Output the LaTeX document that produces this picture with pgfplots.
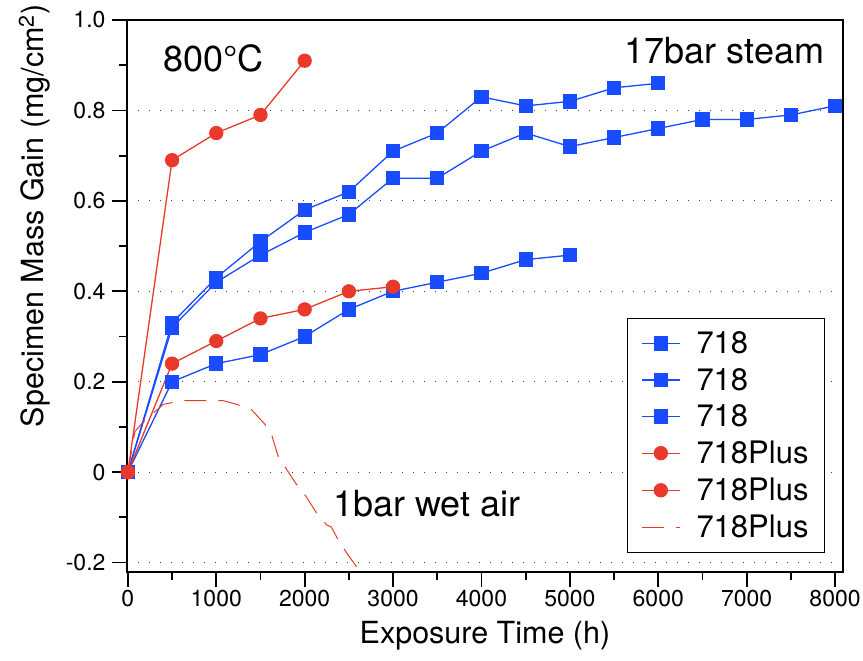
\documentclass[border=0pt]{standalone}
\usepackage{fontspec}
\setmainfont{TeX Gyre Heros}
\usepackage{pgfplots}
\pgfplotsset{compat=1.18}
\definecolor{myblue}{RGB}{25,75,255}
\definecolor{myred}{RGB}{232,57,43}
\begin{document}
\begin{tikzpicture}
\begin{axis}[
  scale only axis, width=716pt, height=552pt,
  xmin=-10, xmax=8090, ymin=-0.2208, ymax=1.0,
  xtick={0,1000,2000,3000,4000,5000,6000,7000,8000},
  xticklabels={0,1000,2000,3000,4000,5000,6000,7000,8000},
  minor x tick num=1,
  ytick={-0.2,0,0.2,0.4,0.6,0.8,1.0},
  yticklabels={-0.2,0,0.2,0.4,0.6,0.8,1.0},
  minor y tick num=1,
  tick align=outside, xtick pos=left, ytick pos=left,
  major tick length=15pt, minor tick length=8pt,
  every tick/.style={black, line width=1.8pt},
  axis line style={line width=2pt},
  ymajorgrids,
  major grid style={black!75, line width=1.1pt, dash pattern=on 1.1pt off 9.9pt},
  /pgf/number format/assume math mode=true,
  tick label style={font=\fontsize{23}{27}\selectfont},
  xticklabel style={anchor=base, yshift=-20pt},
  yticklabel style={anchor=east, xshift=-3pt},
  xlabel={Exposure Time (h)},
  ylabel={Specimen Mass Gain (mg/cm\textsuperscript{2})},
  label style={font=\fontsize{30.5}{36}\selectfont},
  xlabel style={at={(axis description cs:0.5,-0.1304)}, anchor=base},
  ylabel style={at={(axis description cs:-0.1173,0.645)}, anchor=base},
  legend cell align=left,
  legend image code/.code={\draw[mark repeat=2,mark phase=2,#1] plot coordinates {(0pt,0pt) (19pt,0pt) (38pt,0pt)};},
  legend style={at={(0.975,0.0344)}, anchor=south east, draw=black, line width=1.2pt,
    font=\fontsize{31}{36}\selectfont, row sep=9pt, column sep=14pt, inner xsep=14pt, inner ysep=11pt},
]
\addplot[myblue, line width=1.3pt, mark=square*, mark size=6.5pt] coordinates {
(0,0) (500,0.33) (1000,0.43) (1500,0.51) (2000,0.58) (2500,0.62) (3000,0.71) (3500,0.75)
(4000,0.83) (4500,0.81) (5000,0.82) (5500,0.85) (6000,0.86)};
\addlegendentry{718}
\addplot[myblue, line width=1.3pt, mark=square*, mark size=6.5pt] coordinates {
(0,0) (500,0.32) (1000,0.42) (1500,0.48) (2000,0.53) (2500,0.57) (3000,0.65) (3500,0.65)
(4000,0.71) (4500,0.75) (5000,0.72) (5500,0.74) (6000,0.76) (6500,0.78) (7000,0.78)
(7500,0.79) (8000,0.81)};
\addlegendentry{718}
\addplot[myblue, line width=1.3pt, mark=square*, mark size=6.5pt] coordinates {
(0,0) (500,0.20) (1000,0.24) (1500,0.26) (2000,0.30) (2500,0.36) (3000,0.40) (3500,0.42)
(4000,0.44) (4500,0.47) (5000,0.48)};
\addlegendentry{718}
\addplot[myred, line width=1.3pt, mark=*, mark size=6.5pt] coordinates {
(0,0) (500,0.69) (1000,0.75) (1500,0.79) (2000,0.91)};
\addlegendentry{718Plus}
\addplot[myred, line width=1.3pt, mark=*, mark size=6.5pt] coordinates {
(0,0) (500,0.24) (1000,0.29) (1500,0.34) (2000,0.36) (2500,0.40) (3000,0.41)};
\addlegendentry{718Plus}
\addplot[myred, line width=1pt, dash pattern=on 22pt off 12pt] coordinates {
(0,0) (80,0.09) (170,0.11) (400,0.15) (620,0.158) (1080,0.158) (1230,0.15) (1400,0.138)
(1550,0.106) (1630,0.08) (1700,0.035) (1800,0.005) (1900,-0.025) (2020,-0.055)
(2140,-0.092) (2250,-0.117) (2300,-0.121) (2380,-0.15) (2480,-0.18) (2590,-0.21) (2650,-0.23)};
\addlegendentry{718Plus}
\node[anchor=base west, font=\fontsize{36}{40}\selectfont] at (axis cs:359,0.885) {800°C};
\node[anchor=base east, font=\fontsize{36}{40}\selectfont] at (axis cs:7917,0.9046) {17bar steam};
\node[anchor=base west, font=\fontsize{36}{40}\selectfont] at (axis cs:2282,-0.0976) {1bar wet air};
\end{axis}
\pgfresetboundingbox
\path ([xshift=-127pt,yshift=-88pt]current axis.south west) rectangle ([xshift=20pt,yshift=20pt]current axis.north east);
\end{tikzpicture}
\end{document}
